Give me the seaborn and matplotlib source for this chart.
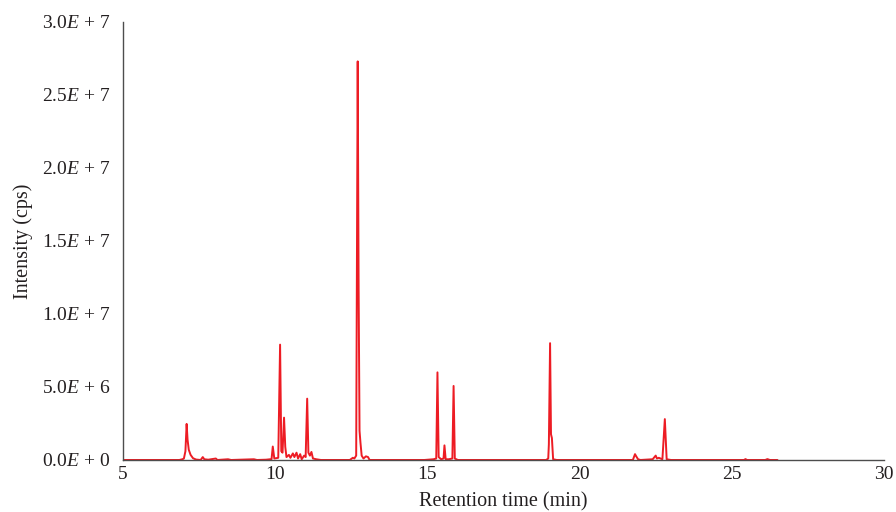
import matplotlib
matplotlib.use("Agg")
import matplotlib.pyplot as plt
import seaborn as sns
import pandas as pd

# Total ion chromatogram: retention time (min) and detector intensity (cps)
retention_time = [
    5.00, 6.85, 6.95, 7.00, 7.05, 7.09, 7.12, 7.16, 7.22, 7.30, 7.40, 7.55,
    7.62, 7.67, 7.80, 8.05, 8.10, 8.45, 8.55, 9.30, 9.40, 9.70, 9.88, 9.92,
    9.97, 10.10, 10.16, 10.20, 10.24, 10.29, 10.33, 10.37, 10.45, 10.50,
    10.58, 10.63, 10.70, 10.75, 10.82, 10.87, 10.95, 11.00, 11.05, 11.09,
    11.14, 11.19, 11.24, 11.35, 11.50, 12.45, 12.55, 12.60, 12.66, 12.71,
    12.74, 12.77, 12.80, 12.84, 12.90, 12.98, 13.05, 13.10, 14.90, 15.20,
    15.29, 15.33, 15.37, 15.45, 15.53, 15.56, 15.60, 15.70, 15.82, 15.86,
    15.90, 16.00, 18.90, 18.97, 18.99, 19.03, 19.06, 19.09, 19.13, 19.25,
    21.75, 21.82, 21.86, 21.92, 22.00, 22.40, 22.50, 22.54, 22.60, 22.72,
    22.80, 22.86, 23.00, 25.40, 25.45, 25.50, 26.10, 26.17, 26.25, 26.50,
]
intensity = [
    0.0, 0.0, 0.05e6, 0.1e6, 0.6e6, 2.47e6, 1.4e6, 0.7e6, 0.35e6, 0.12e6,
    0.03e6, 0.0, 0.2e6, 0.05e6, 0.02e6, 0.1e6, 0.0, 0.05e6, 0.0, 0.05e6,
    0.0, 0.02e6, 0.06e6, 0.92e6, 0.1e6, 0.15e6, 7.9e6, 0.6e6, 0.5e6, 2.9e6,
    0.9e6, 0.2e6, 0.35e6, 0.15e6, 0.45e6, 0.2e6, 0.5e6, 0.1e6, 0.4e6,
    0.05e6, 0.3e6, 0.2e6, 4.2e6, 0.5e6, 0.3e6, 0.55e6, 0.1e6, 0.05e6, 0.0,
    0.0, 0.15e6, 0.1e6, 0.3e6, 27.3e6, 11.8e6, 2.0e6, 1.2e6, 0.3e6, 0.1e6,
    0.25e6, 0.2e6, 0.0, 0.0, 0.05e6, 0.1e6, 6.0e6, 0.2e6, 0.05e6, 0.1e6,
    1.0e6, 0.05e6, 0.05e6, 0.1e6, 5.07e6, 0.1e6, 0.0, 0.0, 0.1e6, 1.07e6,
    8.0e6, 1.76e6, 1.5e6, 0.05e6, 0.0, 0.0, 0.4e6, 0.25e6, 0.05e6, 0.0,
    0.05e6, 0.3e6, 0.1e6, 0.15e6, 0.05e6, 2.8e6, 0.05e6, 0.0, 0.0, 0.06e6,
    0.0, 0.0, 0.06e6, 0.0, 0.0,
]

y_ticks = [0, 5e6, 10e6, 15e6, 20e6, 25e6, 30e6]
y_ticklabels = [
    "0.0$E$ + 0", "5.0$E$ + 6", "1.0$E$ + 7", "1.5$E$ + 7",
    "2.0$E$ + 7", "2.5$E$ + 7", "3.0$E$ + 7",
]
x_ticks = [5, 10, 15, 20, 25, 30]

sns.set_theme(style="white")
plt.rcParams["font.family"] = ["Liberation Serif", "DejaVu Serif"]
plt.rcParams["mathtext.fontset"] = "custom"
plt.rcParams["mathtext.rm"] = "Liberation Serif"
plt.rcParams["mathtext.it"] = "Liberation Serif:italic"

fig = plt.figure(figsize=(8.96, 5.12), dpi=100)
ax = fig.add_axes([0.1373, 0.1016, 0.8493, 0.8555])

df = pd.DataFrame({"time": retention_time, "intensity": intensity})
sns.lineplot(data=df, x="time", y="intensity", ax=ax, color="#ed1c24",
             linewidth=1.4, estimator=None, sort=False)

ax.set_xlim(5, 30)
ax.set_ylim(0, 30e6)
ax.set_xticks(x_ticks)
ax.set_xticklabels([str(t) for t in x_ticks])
ax.set_yticks(y_ticks)
ax.set_yticklabels(y_ticklabels)

text_color = "#231f20"
ax.tick_params(axis="both", length=0, labelsize=14, colors=text_color)
ax.tick_params(axis="y", pad=9)
ax.tick_params(axis="x", pad=4)

ax.set_xlabel("Retention time (min)", fontsize=14.5, color=text_color, labelpad=7)
ax.set_ylabel("Intensity (cps)", fontsize=14.5, color=text_color, labelpad=7)

for side in ("top", "right"):
    ax.spines[side].set_visible(False)
for side in ("left", "bottom"):
    ax.spines[side].set_color("#4d4d4d")
    ax.spines[side].set_linewidth(1.0)

ax.grid(False)
fig.savefig("out.png", dpi=100)
